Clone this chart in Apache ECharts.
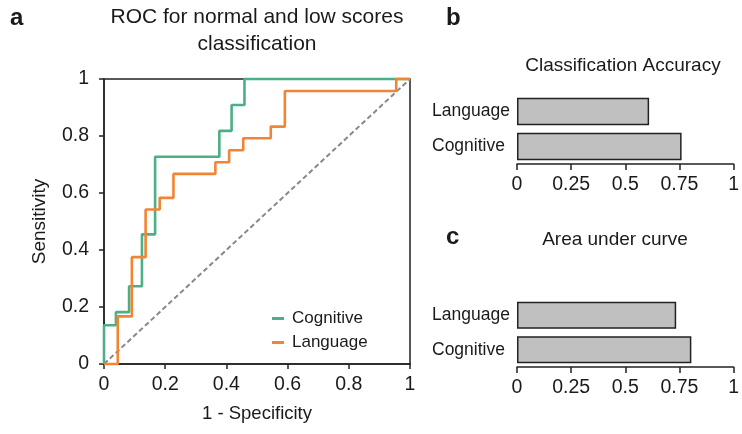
<!DOCTYPE html>
<html>
<head>
<meta charset="utf-8">
<script src="https://cdn.jsdelivr.net/npm/echarts@6/dist/echarts.min.js"></script>
<style>
html,body{margin:0;padding:0;background:#fff;}
#c{width:742px;height:434px;}
</style>
</head>
<body>
<div id="c"></div>
<script>
// ROC curve data (false positive rate, true positive rate)
const cognitiveFpr = [0,0,0.039,0.039,0.082,0.082,0.124,0.124,0.167,0.167,0.377,0.377,0.417,0.417,0.459,0.459,1];
const cognitiveTpr = [0,0.136,0.136,0.182,0.182,0.273,0.273,0.455,0.455,0.727,0.727,0.818,0.818,0.909,0.909,1,1];
const languageFpr = [0,0.045,0.045,0.091,0.091,0.136,0.136,0.182,0.182,0.227,0.227,0.364,0.364,0.409,0.409,0.455,0.455,0.545,0.545,0.591,0.591,0.955,0.955,1];
const languageTpr = [0,0,0.167,0.167,0.375,0.375,0.542,0.542,0.583,0.583,0.667,0.667,0.708,0.708,0.75,0.75,0.792,0.792,0.833,0.833,0.958,0.958,1,1];
const chanceLine = [0, 1];

// Bar charts
const barCategories = ['Cognitive', 'Language'];
const accuracyValues = [0.76, 0.61];
const aucValues = [0.805, 0.735];

const FONT = 'Liberation Sans, Arial, sans-serif';
const TXT = '#1a1a1a';
const GREEN = '#4daf86';
const ORANGE = '#f28535';

function zip(a, b) { return a.map((v, i) => [v, b[i]]); }

const chart = echarts.init(document.getElementById('c'), null, {renderer: 'canvas'});

const valueAxisBar = (gi) => ({
  type: 'value', gridIndex: gi, min: 0, max: 1, interval: 0.25,
  axisLine: {show: true, lineStyle: {color: '#222', width: 1.5}},
  axisTick: {show: true, length: 6, lineStyle: {color: '#222', width: 1.5}},
  axisLabel: {color: TXT, fontSize: 19.5, fontFamily: FONT, margin: 11},
  splitLine: {show: false}
});
const catAxisBar = (gi) => ({
  type: 'category', gridIndex: gi, data: barCategories,
  axisLine: {show: false}, axisTick: {show: false},
  axisLabel: {color: TXT, fontSize: 17.5, fontFamily: FONT, margin: 85, align: 'left'}
});
const ttl = (text, left, top, size, bold, align) => ({
  text, left, top, padding: 0, textAlign: align || 'left',
  textStyle: {fontSize: size, fontWeight: bold ? 'bold' : 'normal', color: TXT, fontFamily: FONT,
              lineHeight: Math.round(size * 1.25)}
});

chart.setOption({
  animation: false,
  backgroundColor: '#fff',
  textStyle: {fontFamily: FONT},
  title: [
    Object.assign(ttl('ROC for normal and low scores\nclassification', 257, 4, 21, false, 'center'),
      {textStyle: {fontSize: 21, fontWeight: 'normal', color: TXT, fontFamily: FONT, lineHeight: 27}}),
    ttl('a', 10, 3, 24, true),
    ttl('b', 446, 3.5, 24, true),
    ttl('c', 446, 222, 24, true),
    ttl('Classification Accuracy', 623, 54, 19, false, 'center'),
    ttl('Area under curve', 615, 228, 19, false, 'center')
  ],
  legend: {
    data: ['Cognitive', 'Language'],
    orient: 'vertical', left: 267, top: 305,
    icon: 'rect', itemWidth: 12, itemHeight: 3, itemGap: 7,
    textStyle: {fontSize: 17, lineHeight: 17, color: TXT, fontFamily: FONT, padding: [0, 0, 0, 3]}
  },
  grid: [
    {left: 104, top: 79, width: 306, height: 285, show: true, borderColor: '#222', borderWidth: 1.5, backgroundColor: 'transparent'},
    {left: 517, top: 94, width: 219, height: 70},
    {left: 517, top: 298, width: 219, height: 69}
  ],
  xAxis: [
    {type: 'value', gridIndex: 0, min: 0, max: 1, interval: 0.2,
     name: '1 - Specificity', nameLocation: 'middle', nameGap: 40,
     nameTextStyle: {fontSize: 18.5, color: TXT, fontFamily: FONT},
     axisLine: {show: true, lineStyle: {color: '#222', width: 1.5}},
     axisTick: {show: true, length: 5, lineStyle: {color: '#222', width: 1.5}},
     axisLabel: {color: TXT, fontSize: 19.5, fontFamily: FONT, margin: 11},
     splitLine: {show: false}},
    valueAxisBar(1),
    valueAxisBar(2)
  ],
  yAxis: [
    {type: 'value', gridIndex: 0, min: 0, max: 1, interval: 0.2,
     name: 'Sensitivity', nameLocation: 'middle', nameGap: 55,
     nameTextStyle: {fontSize: 19, color: TXT, fontFamily: FONT},
     axisLine: {show: true, lineStyle: {color: '#222', width: 1.5}},
     axisTick: {show: true, length: 5, lineStyle: {color: '#222', width: 1.5}},
     axisLabel: {color: TXT, fontSize: 19.5, fontFamily: FONT, margin: 15},
     splitLine: {show: false}},
    catAxisBar(1),
    catAxisBar(2)
  ],
  series: [
    {name: 'chance', type: 'line', xAxisIndex: 0, yAxisIndex: 0, data: zip(chanceLine, chanceLine),
     showSymbol: false, silent: true, clip: false,
     lineStyle: {color: '#888', width: 2, type: [5, 3]}},
    {name: 'Cognitive', type: 'line', xAxisIndex: 0, yAxisIndex: 0, data: zip(cognitiveFpr, cognitiveTpr),
     showSymbol: false, clip: false, color: GREEN, lineStyle: {color: GREEN, width: 2.6}},
    {name: 'Language', type: 'line', xAxisIndex: 0, yAxisIndex: 0, data: zip(languageFpr, languageTpr),
     showSymbol: false, clip: false, color: ORANGE, lineStyle: {color: ORANGE, width: 2.6}},
    {name: 'Accuracy', type: 'bar', xAxisIndex: 1, yAxisIndex: 1, data: accuracyValues,
     barCategoryGap: '22%', itemStyle: {color: '#c0c0c0', borderColor: '#222', borderWidth: 1.5}},
    {name: 'AUC', type: 'bar', xAxisIndex: 2, yAxisIndex: 2, data: aucValues,
     barCategoryGap: '22%', itemStyle: {color: '#c0c0c0', borderColor: '#222', borderWidth: 1.5}}
  ]
});
</script>
</body>
</html>
